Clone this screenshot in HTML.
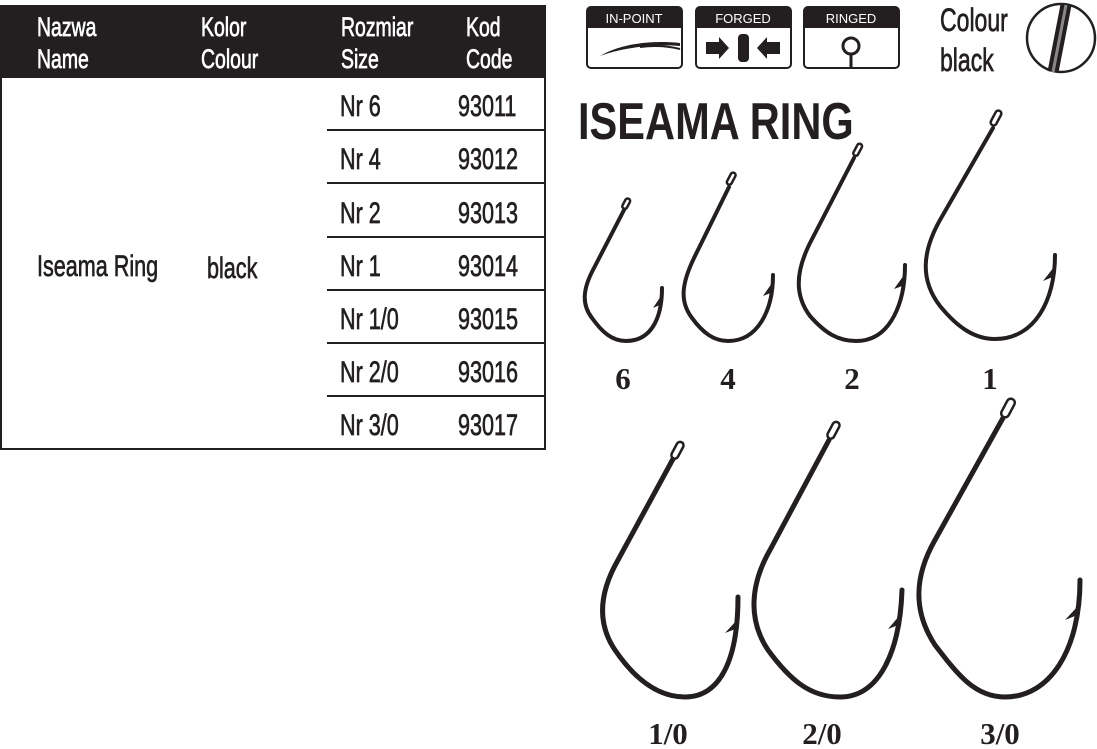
<!DOCTYPE html>
<html><head><meta charset="utf-8"><style>
html,body{margin:0;padding:0;background:#fff;width:1097px;height:749px;overflow:hidden}
</style></head><body>
<svg width="1097" height="749" viewBox="0 0 1097 749" xmlns="http://www.w3.org/2000/svg">
<!-- table -->
<rect x="1" y="6" width="544" height="443" fill="#fff" stroke="#231f20" stroke-width="2"/>
<rect x="1" y="6" width="544" height="72" fill="#231f20"/>
<g font-family="Liberation Sans, sans-serif" font-size="27" fill="#fff" stroke="#fff" stroke-width="0.7">
<g transform="translate(37,36) scale(0.72,1)"><text>Nazwa</text><text y="32">Name</text></g>
<g transform="translate(201,36) scale(0.72,1)"><text>Kolor</text><text y="32">Colour</text></g>
<g transform="translate(341,36) scale(0.72,1)"><text>Rozmiar</text><text y="32">Size</text></g>
<g transform="translate(466,36) scale(0.72,1)"><text>Kod</text><text y="32">Code</text></g>
</g>
<g stroke="#231f20" stroke-width="2">
<line x1="327" y1="130" x2="545" y2="130"/><line x1="327" y1="183" x2="545" y2="183"/>
<line x1="327" y1="237" x2="545" y2="237"/><line x1="327" y1="290" x2="545" y2="290"/>
<line x1="327" y1="343" x2="545" y2="343"/><line x1="327" y1="396" x2="545" y2="396"/>
</g>
<g font-family="Liberation Sans, sans-serif" font-size="30" fill="#231f20" stroke="#231f20" stroke-width="0.7">
<g transform="translate(37,276) scale(0.72,1)"><text>Iseama Ring</text></g>
<g transform="translate(207,278) scale(0.72,1)"><text>black</text></g>
<g transform="translate(340,116) scale(0.72,1)"><text>Nr 6</text></g>
<g transform="translate(340,169) scale(0.72,1)"><text>Nr 4</text></g>
<g transform="translate(340,223) scale(0.72,1)"><text>Nr 2</text></g>
<g transform="translate(340,276) scale(0.72,1)"><text>Nr 1</text></g>
<g transform="translate(340,329) scale(0.72,1)"><text>Nr 1/0</text></g>
<g transform="translate(340,382) scale(0.72,1)"><text>Nr 2/0</text></g>
<g transform="translate(340,435) scale(0.72,1)"><text>Nr 3/0</text></g>
<g transform="translate(458,116) scale(0.72,1)"><text>93011</text></g>
<g transform="translate(458,169) scale(0.72,1)"><text>93012</text></g>
<g transform="translate(458,223) scale(0.72,1)"><text>93013</text></g>
<g transform="translate(458,276) scale(0.72,1)"><text>93014</text></g>
<g transform="translate(458,329) scale(0.72,1)"><text>93015</text></g>
<g transform="translate(458,382) scale(0.72,1)"><text>93016</text></g>
<g transform="translate(458,435) scale(0.72,1)"><text>93017</text></g>
</g>
<!-- icons -->
<g stroke="#231f20" stroke-width="2" fill="#fff">
<rect x="587" y="7" width="95" height="61" rx="4"/>
<rect x="696" y="7" width="95" height="61" rx="4"/>
<rect x="804" y="7" width="95" height="61" rx="4"/>
</g>
<g fill="#231f20">
<path d="M587,11 a4,4 0 0 1 4,-4 h87 a4,4 0 0 1 4,4 v17 h-95z"/>
<path d="M696,11 a4,4 0 0 1 4,-4 h87 a4,4 0 0 1 4,4 v17 h-95z"/>
<path d="M804,11 a4,4 0 0 1 4,-4 h87 a4,4 0 0 1 4,4 v17 h-95z"/>
</g>
<g font-family="Liberation Sans, sans-serif" font-size="13" fill="#fff" text-anchor="middle">
<text x="634" y="23">IN-POINT</text><text x="743" y="23">FORGED</text><text x="851" y="23">RINGED</text>
</g>
<path d="M600,56 C620,44 650,40 680,43 L680,46 C655,44 625,47 600,56z" fill="#231f20"/>
<path d="M640,47 C655,45 668,46 680,49" stroke="#231f20" stroke-width="2" fill="none"/>
<path d="M706,42 h13 v-5 l10,11 l-10,11 v-5 h-13z" fill="#231f20"/>
<path d="M780,42 h-13 v-5 l-10,11 l10,11 v-5 h13z" fill="#231f20"/>
<rect x="738" y="34" width="11" height="28" rx="4" fill="#231f20"/>
<circle cx="851" cy="46" r="8" fill="none" stroke="#231f20" stroke-width="3"/>
<line x1="851" y1="54" x2="851" y2="68" stroke="#231f20" stroke-width="3"/>
<g font-family="Liberation Sans, sans-serif" font-size="32" fill="#231f20" stroke="#231f20" stroke-width="0.7">
<g transform="translate(940,31) scale(0.72,1)"><text>Colour</text></g>
<g transform="translate(940,71) scale(0.72,1)"><text>black</text></g>
</g>
<circle cx="1061" cy="38" r="34" fill="#fff" stroke="#231f20" stroke-width="2.5"/>
<path d="M1053,72 L1066,5" stroke="#231f20" stroke-width="11"/>
<path d="M1053,72 L1066,5" stroke="#888" stroke-width="3"/>
<!-- title -->
<g transform="translate(578,139) scale(0.8,1)"><text font-family="Liberation Sans, sans-serif" font-weight="bold" font-size="52" fill="#231f20">ISEAMA RING</text></g>
<!-- hooks -->
<g fill="none" stroke="#231f20" stroke-width="4" stroke-linecap="round">
<path d="M624,210 L594,268 C582,290 582,305 592,318 C602,332 612,341 626,341 C650,341 662,320 662,288"/>
<path d="M729,187 L694,258 C681,285 680,302 692,318 C703,333 714,341 728,341 C758,341 773,310 773,275"/>
<path d="M854,158 L810,243 C795,273 795,296 810,316 C825,333 838,341 856,341 C892,341 905,300 905,265"/>
<path d="M993,128 L940,220 C922,252 920,280 940,306 C958,328 975,339 995,339 C1035,339 1055,300 1055,255"/>
<path d="M673,459 L618,560 C598,595 598,625 615,650 C632,675 655,697 685,697 C720,697 738,660 738,597" stroke-width="5"/>
<path d="M829,440 L770,550 C750,585 748,620 768,650 C790,680 810,697 840,697 C880,697 900,650 902,590" stroke-width="5"/>
<path d="M1003,418 L935,540 C915,575 912,610 935,645 C958,675 975,697 1005,697 C1050,697 1080,650 1080,580" stroke-width="5"/>
</g>
<g fill="#231f20">
<path d="M661,296 l-8,12 l9,-4z"/><path d="M772,283 l-9,13 l10,-4z"/><path d="M904,275 l-10,14 l11,-4z"/><path d="M1054,267 l-11,14 l12,-5z"/>
<path d="M737,620 l-12,13 l13,-5z"/><path d="M900,615 l-12,14 l13,-5z"/><path d="M1079,605 l-14,15 l15,-6z"/>
</g>
<g fill="#fff" stroke="#231f20" stroke-width="2.5">
<rect x="624" y="198" width="5" height="11" rx="2.5" transform="rotate(28 626 203)"/>
<rect x="729" y="172" width="5" height="13" rx="2.5" transform="rotate(28 731 178)"/>
<rect x="855" y="143" width="5" height="13" rx="2.5" transform="rotate(28 857 150)"/>
<rect x="993" y="110" width="6" height="16" rx="3" transform="rotate(28 996 118)"/>
<rect x="674" y="441" width="7" height="18" rx="3.5" transform="rotate(28 677 450)"/>
<rect x="830" y="421" width="7" height="18" rx="3.5" transform="rotate(28 833 430)"/>
<rect x="1004" y="398" width="8" height="20" rx="4" transform="rotate(28 1008 408)"/>
</g>
<g font-family="Liberation Serif, serif" font-weight="bold" font-size="31" fill="#231f20" text-anchor="middle">
<text x="623" y="389">6</text><text x="728" y="389">4</text><text x="852" y="389">2</text><text x="990" y="389">1</text>
<text x="668" y="744">1/0</text><text x="822" y="744">2/0</text><text x="1000" y="744">3/0</text>
</g>
</svg>
</body></html>
